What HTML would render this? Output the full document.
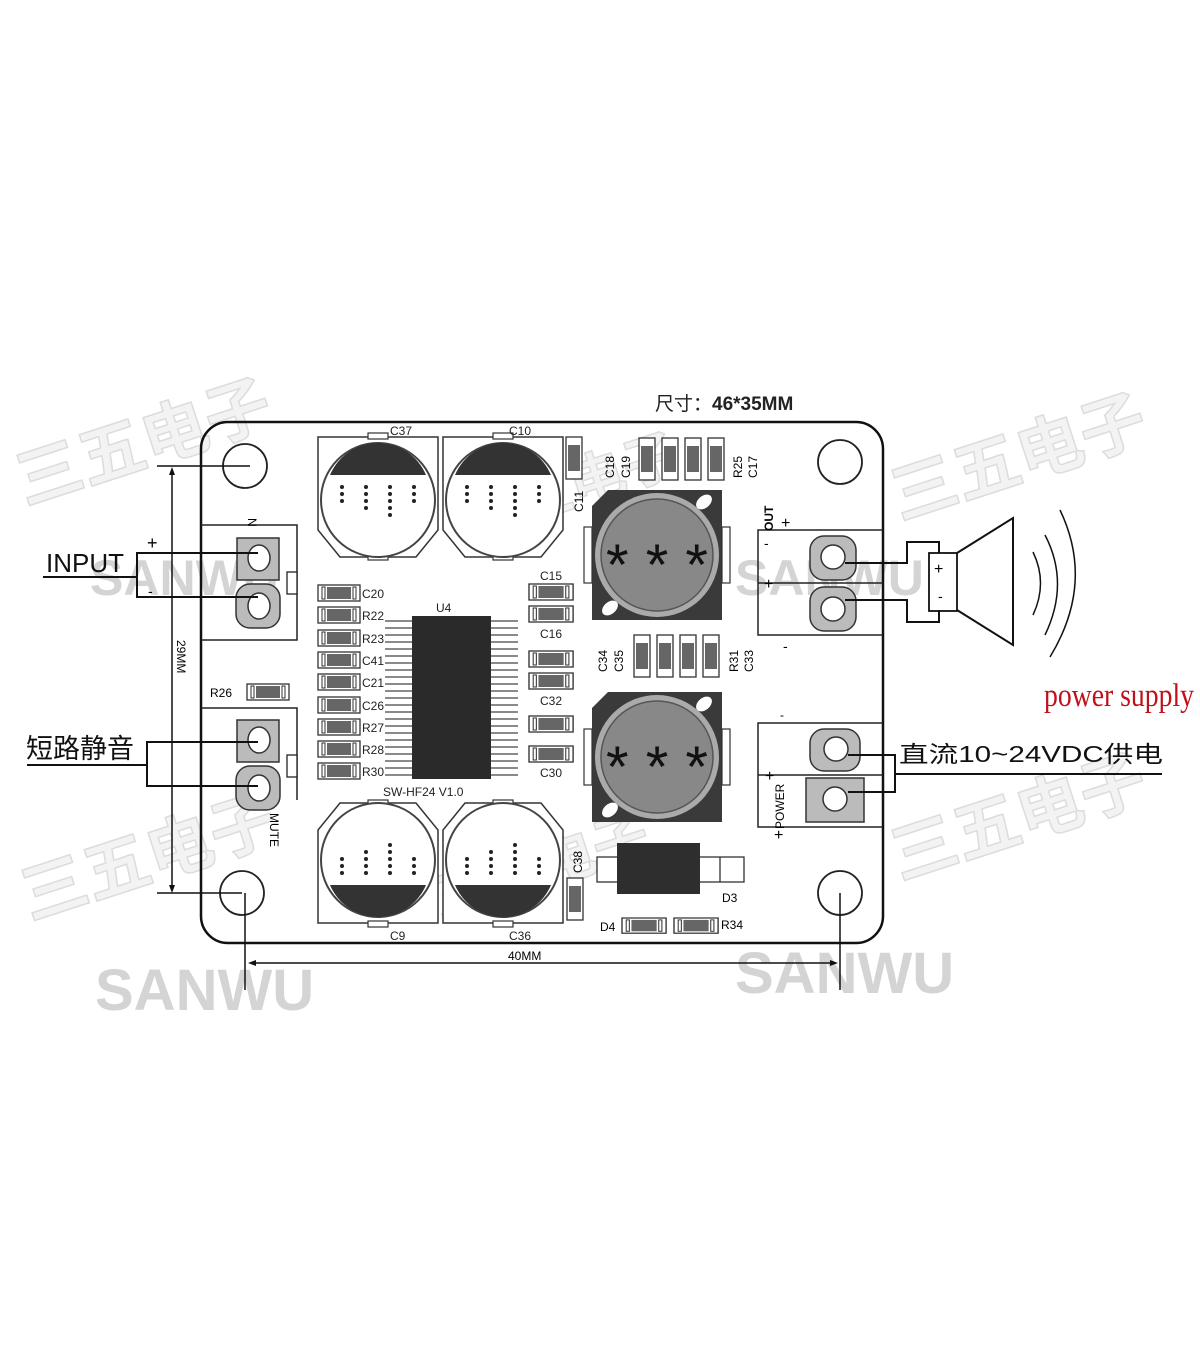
<!DOCTYPE html>
<html><head><meta charset="utf-8">
<style>
html,body{margin:0;padding:0;background:#fff;}
svg{display:block;}
text{font-family:"Liberation Sans","Noto Sans CJK SC",sans-serif;}
</style></head><body>
<svg width="1200" height="1372" viewBox="0 0 1200 1372" xmlns="http://www.w3.org/2000/svg">
<defs>
  <g id="capT">
    <path d="M318,437 H438 V530 L416,557 H340 L318,530 Z" fill="#fff" stroke="#333" stroke-width="1.5"/>
    <rect x="368" y="433" width="20" height="6" fill="#fff" stroke="#333" stroke-width="1.2"/>
    <rect x="368" y="554" width="20" height="6" fill="#fff" stroke="#333" stroke-width="1.2"/>
    <circle cx="378" cy="500" r="57" fill="#fff" stroke="#444" stroke-width="2"/>
    <path d="M330,475 A52,52 0 0 1 426,475 Z" fill="#333"/>
    <g fill="#222">
      <circle cx="342" cy="487" r="2"/><circle cx="342" cy="494" r="2"/><circle cx="342" cy="501" r="2"/>
      <circle cx="366" cy="487" r="2"/><circle cx="366" cy="494" r="2"/><circle cx="366" cy="501" r="2"/><circle cx="366" cy="508" r="2"/>
      <circle cx="390" cy="487" r="2"/><circle cx="390" cy="494" r="2"/><circle cx="390" cy="501" r="2"/><circle cx="390" cy="508" r="2"/><circle cx="390" cy="515" r="2"/>
      <circle cx="414" cy="487" r="2"/><circle cx="414" cy="494" r="2"/><circle cx="414" cy="501" r="2"/>
    </g>
  </g>
  <g id="smdH">
    <rect x="0" y="0" width="42" height="16" fill="#fff" stroke="#333" stroke-width="1.3"/>
    <rect x="4" y="2" width="3" height="12" fill="#fff" stroke="#333" stroke-width="1"/>
    <rect x="35" y="2" width="3" height="12" fill="#fff" stroke="#333" stroke-width="1"/>
    <rect x="9" y="2" width="24" height="12" fill="#666"/>
  </g>
  <g id="smdV">
    <rect x="0" y="0" width="16" height="42" fill="#fff" stroke="#333" stroke-width="1.3"/>
    <rect x="2" y="8" width="12" height="26" fill="#666"/>
  </g>
  <g id="ind">
    <path d="M16,0 H130 V130 H0 V16 Z" fill="#3a3a3a"/>
    <ellipse cx="112" cy="12" rx="9" ry="6" transform="rotate(-40 112 12)" fill="#fff"/>
    <ellipse cx="18" cy="118" rx="9" ry="6" transform="rotate(-40 18 118)" fill="#fff"/>
    <rect x="-8" y="37" width="8" height="56" fill="#fff" stroke="#333" stroke-width="1.2"/>
    <rect x="130" y="37" width="8" height="56" fill="#fff" stroke="#333" stroke-width="1.2"/>
    <circle cx="65" cy="65" r="62" fill="#aaa"/>
    <circle cx="65" cy="65" r="56" fill="#888" stroke="#555" stroke-width="1.5"/>
  </g>
</defs>

<!-- watermarks -->
<g fill="#f3f3f3" stroke="#dcdcdc" stroke-width="1.5" style="font-family:'Noto Sans CJK SC',sans-serif;font-weight:bold">
  <text x="25" y="505" font-size="66" transform="rotate(-18 25 505)">三五电子</text>
  <text x="30" y="920" font-size="66" transform="rotate(-18 30 920)">三五电子</text>
  <text x="900" y="520" font-size="66" transform="rotate(-18 900 520)">三五电子</text>
  <text x="900" y="880" font-size="66" transform="rotate(-18 900 880)">三五电子</text>
  <text x="470" y="540" font-size="56" transform="rotate(-18 470 540)">三五电子</text>
  <text x="440" y="920" font-size="56" transform="rotate(-18 440 920)">三五电子</text>
</g>
<g fill="#d4d4d4" style="font-family:'Liberation Serif',serif;font-weight:bold">
  <text x="90" y="595" font-size="50">SANWU</text>
  <text x="735" y="595" font-size="50">SANWU</text>
  <text x="95" y="1010" font-size="58">SANWU</text>
  <text x="735" y="993" font-size="58">SANWU</text>
</g>

<!-- board -->
<rect x="201" y="422" width="682" height="521" rx="27" fill="none" stroke="#111" stroke-width="2.5"/>
<g fill="none" stroke="#222" stroke-width="1.8">
  <circle cx="245" cy="466" r="22"/><circle cx="840" cy="462" r="22"/>
  <circle cx="242" cy="893" r="22"/><circle cx="840" cy="893" r="22"/>
</g>
<g stroke="#111" stroke-width="1.5" fill="none">
  <line x1="157" y1="466" x2="250" y2="466"/>
  <line x1="157" y1="893" x2="242" y2="893"/>
  <line x1="172" y1="470" x2="172" y2="890"/>
  <line x1="245" y1="893" x2="245" y2="990"/>
  <line x1="840" y1="893" x2="840" y2="990"/>
  <line x1="252" y1="963" x2="834" y2="963"/>
</g>
<path d="M172,467 l-3,8 h6 z M172,893 l-3,-8 h6 z M248,963 l8,-3 v6 z M838,963 l-8,-3 v6 z" fill="#111"/>
<text x="177" y="640" font-size="12" transform="rotate(90 177 640)">29MM</text>
<text x="508" y="960" font-size="12">40MM</text>
<text x="655" y="410" font-size="19" fill="#222">尺寸：<tspan font-weight="bold">46*35MM</tspan></text>

<!-- caps -->
<use href="#capT"/>
<use href="#capT" transform="translate(125 0)"/>
<use href="#capT" transform="translate(0 1360) scale(1 -1)"/>
<use href="#capT" transform="translate(125 1360) scale(1 -1)"/>
<g font-size="12" fill="#222">
  <text x="390" y="435">C37</text><text x="509" y="435">C10</text>
  <text x="383" y="796">SW-HF24 V1.0</text>
  <text x="390" y="940">C9</text><text x="509" y="940">C36</text>
</g>

<use href="#smdV" transform="translate(566 437)"/>
<text x="583" y="512" font-size="12" transform="rotate(-90 583 512)">C11</text>
<use href="#smdV" transform="translate(639 438)"/>
<use href="#smdV" transform="translate(662 438)"/>
<use href="#smdV" transform="translate(685 438)"/>
<use href="#smdV" transform="translate(708 438)"/>
<g font-size="12" transform="rotate(-90)">
  <text x="-478" y="614">C18</text><text x="-478" y="630">C19</text>
  <text x="-478" y="742">R25</text><text x="-478" y="757">C17</text>
</g>
<use href="#smdV" transform="translate(634 635)"/>
<use href="#smdV" transform="translate(657 635)"/>
<use href="#smdV" transform="translate(680 635)"/>
<use href="#smdV" transform="translate(703 635)"/>
<g font-size="12" transform="rotate(-90)">
  <text x="-672" y="607">C34</text><text x="-672" y="623">C35</text>
  <text x="-672" y="738">R31</text><text x="-672" y="753">C33</text>
</g>

<!-- inductors -->
<use href="#ind" transform="translate(592 490)"/>
<use href="#ind" transform="translate(592 692)"/>
<text x="606" y="585" font-size="58" fill="#111" textLength="102" lengthAdjust="spacing">***</text>
<text x="606" y="787" font-size="58" fill="#111" textLength="102" lengthAdjust="spacing">***</text>

<!-- left resistor column -->
<use href="#smdH" transform="translate(318 585)"/>
<use href="#smdH" transform="translate(318 607)"/>
<use href="#smdH" transform="translate(318 630)"/>
<use href="#smdH" transform="translate(318 652)"/>
<use href="#smdH" transform="translate(318 674)"/>
<use href="#smdH" transform="translate(318 697)"/>
<use href="#smdH" transform="translate(318 719)"/>
<use href="#smdH" transform="translate(318 741)"/>
<use href="#smdH" transform="translate(318 763)"/>
<g font-size="12" fill="#222">
  <text x="362" y="598">C20</text><text x="362" y="620">R22</text><text x="362" y="643">R23</text>
  <text x="362" y="665">C41</text><text x="362" y="687">C21</text><text x="362" y="710">C26</text>
  <text x="362" y="732">R27</text><text x="362" y="754">R28</text><text x="362" y="776">R30</text>
  <text x="436" y="612">U4</text>
</g>
<g stroke="#444" stroke-width="1.2">
  <path d="M385,621h27M385,628h27M385,635h27M385,642h27M385,649h27M385,656h27M385,663h27M385,670h27M385,677h27M385,684h27M385,691h27M385,698h27M385,705h27M385,712h27M385,719h27M385,726h27M385,733h27M385,740h27M385,747h27M385,754h27M385,761h27M385,768h27M385,775h27"/>
  <path d="M491,621h27M491,628h27M491,635h27M491,642h27M491,649h27M491,656h27M491,663h27M491,670h27M491,677h27M491,684h27M491,691h27M491,698h27M491,705h27M491,712h27M491,719h27M491,726h27M491,733h27M491,740h27M491,747h27M491,754h27M491,761h27M491,768h27M491,775h27"/>
</g>
<rect x="412" y="616" width="79" height="163" fill="#2a2a2a"/>
<use href="#smdH" transform="translate(529 584) scale(1.05 1)"/>
<use href="#smdH" transform="translate(529 606) scale(1.05 1)"/>
<use href="#smdH" transform="translate(529 651) scale(1.05 1)"/>
<use href="#smdH" transform="translate(529 673) scale(1.05 1)"/>
<use href="#smdH" transform="translate(529 716) scale(1.05 1)"/>
<use href="#smdH" transform="translate(529 746) scale(1.05 1)"/>
<g font-size="12" fill="#222">
  <text x="540" y="580">C15</text><text x="540" y="638">C16</text>
  <text x="540" y="705">C32</text><text x="540" y="777">C30</text>
</g>

<!-- input connector -->
<g fill="none" stroke="#222" stroke-width="1.5">
  <path d="M201,525 H297 V640 H201"/>
  <path d="M201,708 H297 V800"/>
</g>
<rect x="287" y="572" width="10" height="22" fill="#fff" stroke="#222" stroke-width="1.3"/>
<rect x="287" y="755" width="10" height="22" fill="#fff" stroke="#222" stroke-width="1.3"/>
<rect x="237" y="538" width="42" height="42" fill="#bbb" stroke="#333" stroke-width="1.5"/>
<rect x="236" y="584" width="44" height="44" rx="14" fill="#bbb" stroke="#333" stroke-width="1.5"/>
<rect x="237" y="720" width="42" height="42" fill="#bbb" stroke="#333" stroke-width="1.5"/>
<rect x="236" y="766" width="44" height="44" rx="14" fill="#bbb" stroke="#333" stroke-width="1.5"/>
<g fill="#fff" stroke="#333" stroke-width="1.5">
  <ellipse cx="259" cy="558" rx="11" ry="13"/><ellipse cx="259" cy="606" rx="11" ry="13"/>
  <ellipse cx="259" cy="740" rx="11" ry="13"/><ellipse cx="259" cy="788" rx="11" ry="13"/>
</g>
<text x="248" y="518" font-size="12" transform="rotate(90 248 518)">N</text>
<text x="270" y="813" font-size="12" transform="rotate(90 270 813)">MUTE</text>
<use href="#smdH" transform="translate(247 684)"/>
<text x="210" y="697" font-size="12">R26</text>

<g stroke="#111" stroke-width="2" fill="none">
  <path d="M258,553 H137 V597 H258"/>
  <path d="M43,577 H137"/>
  <path d="M258,742 H147 V786 H258"/>
  <path d="M27,765 H147"/>
</g>
<text x="46" y="572" font-size="26" fill="#111">INPUT</text>
<text x="147" y="549" font-size="18">+</text>
<text x="148" y="596" font-size="14">-</text>
<text x="26" y="758" font-size="27" fill="#111" style="font-family:'Noto Sans CJK SC',sans-serif">短路静音</text>

<!-- OUT / POWER connectors -->
<g fill="none" stroke="#222" stroke-width="1.5">
  <path d="M883,530 H758 V635 H883"/>
  <path d="M758,583 H883"/>
  <path d="M883,723 H758 V827 H883"/>
  <path d="M758,775 H883"/>
</g>
<rect x="810" y="536" width="46" height="44" rx="14" fill="#bbb" stroke="#333" stroke-width="1.5"/>
<rect x="810" y="587" width="46" height="44" rx="14" fill="#bbb" stroke="#333" stroke-width="1.5"/>
<rect x="810" y="729" width="50" height="42" rx="14" fill="#bbb" stroke="#333" stroke-width="1.5"/>
<rect x="806" y="778" width="58" height="44" fill="#bbb" stroke="#333" stroke-width="1.5"/>
<g fill="#fff" stroke="#333" stroke-width="1.5">
  <ellipse cx="833" cy="557" rx="12" ry="12"/><ellipse cx="833" cy="609" rx="12" ry="12"/>
  <ellipse cx="836" cy="749" rx="12" ry="12"/><ellipse cx="835" cy="799" rx="12" ry="12"/>
</g>
<text x="773" y="531" font-size="12" font-weight="bold" transform="rotate(-90 773 531)">OUT</text>
<text x="781" y="528" font-size="16">+</text>
<text x="764" y="589" font-size="16">+</text>
<text x="764" y="548" font-size="14">-</text>
<text x="783" y="651" font-size="14">-</text>
<text x="784" y="829" font-size="12" transform="rotate(-90 784 829)">POWER</text>
<text x="765" y="781" font-size="16">+</text>
<text x="774" y="840" font-size="16">+</text>
<text x="780" y="719" font-size="12">-</text>

<g stroke="#111" stroke-width="2" fill="none">
  <path d="M845,563 H907 V542 H939 V553"/>
  <path d="M845,600 H907 V622 H939 V610"/>
  <rect x="929" y="553" width="28" height="58" stroke-width="1.8"/>
  <path d="M957,553 L1013,518 V645 L957,610"/>
  <path d="M1033,552 Q1048,583 1033,615" stroke-width="1.5"/>
  <path d="M1045,535 Q1070,583 1045,635" stroke-width="1.5"/>
  <path d="M1060,510 Q1095,583 1050,657" stroke-width="1.5"/>
  <path d="M848,755 H895 V792 H848"/>
  <path d="M895,774 H1162"/>
</g>
<text x="934" y="574" font-size="16">+</text>
<text x="938" y="601" font-size="14">-</text>
<text x="1044" y="706" font-size="33" fill="#c0101a" style="font-family:'Liberation Serif',serif" textLength="150" lengthAdjust="spacingAndGlyphs">power supply</text>
<text x="899" y="762" font-size="23" fill="#111" textLength="264" lengthAdjust="spacingAndGlyphs">直流10~24VDC供电</text>

<!-- D3 area -->
<rect x="597" y="857" width="22" height="25" fill="#fff" stroke="#333" stroke-width="1.3"/>
<rect x="698" y="857" width="46" height="25" fill="#fff" stroke="#333" stroke-width="1.3"/>
<line x1="720" y1="857" x2="720" y2="882" stroke="#333" stroke-width="1.3"/>
<rect x="617" y="843" width="83" height="51" fill="#2e2e2e"/>
<text x="722" y="902" font-size="12">D3</text>
<use href="#smdV" transform="translate(567 878)"/>
<text x="582" y="873" font-size="12" transform="rotate(-90 582 873)">C38</text>
<use href="#smdH" transform="translate(622 918) scale(1.05 0.95)"/>
<use href="#smdH" transform="translate(674 918) scale(1.05 0.95)"/>
<text x="600" y="931" font-size="12">D4</text>
<text x="721" y="929" font-size="12">R34</text>
</svg>
</body></html>
